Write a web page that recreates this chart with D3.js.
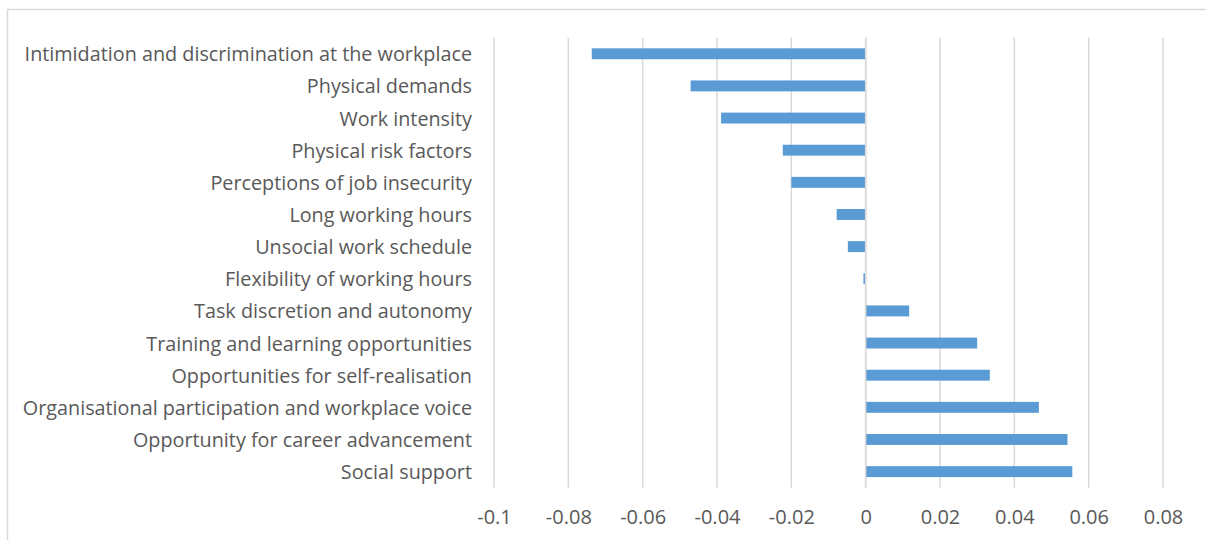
<!DOCTYPE html>
<html>
<head>
<meta charset="utf-8">
<script src="https://cdn.jsdelivr.net/npm/d3@7"></script>
<style>
  html, body { margin: 0; padding: 0; background: #fff; }
  svg { display: block; }
  text { font-family: "Open Sans", sans-serif; fill: #595959; }
</style>
</head>
<body>
<svg id="chart" width="1206" height="540"></svg>
<script>
// Job-quality factors and their estimated effect
const categories = [
  "Intimidation and discrimination at the workplace",
  "Physical demands",
  "Work intensity",
  "Physical risk factors",
  "Perceptions of job insecurity",
  "Long working hours",
  "Unsocial work schedule",
  "Flexibility of working hours",
  "Task discretion and autonomy",
  "Training and learning opportunities",
  "Opportunities for self-realisation",
  "Organisational participation and workplace voice",
  "Opportunity for career advancement",
  "Social support"
];
const values = [
  -0.0737, -0.0471, -0.0389, -0.0223, -0.0200, -0.0078, -0.0048,
  -0.0006, 0.0117, 0.0300, 0.0334, 0.0466, 0.0543, 0.0556
];
const tickValues = [-0.1, -0.08, -0.06, -0.04, -0.02, 0, 0.02, 0.04, 0.06, 0.08];

const svg = d3.select("#chart");
const W = 1206, H = 540;
const plot = { left: 494, right: 1163, top: 37.7, bottom: 487.7 };

// Outer chart frame (top and left edges fall inside the view)
svg.append("rect")
  .attr("x", 7.5).attr("y", 9.5)
  .attr("width", W + 20).attr("height", H + 20)
  .attr("fill", "none").attr("stroke", "#d9d9d9").attr("stroke-width", 1.5);

const x = d3.scaleLinear().domain([-0.1, 0.08]).range([plot.left, plot.right]);
const y = d3.scaleBand().domain(categories).range([plot.top, plot.bottom]).paddingInner(0.66).paddingOuter(0.33);

// Vertical gridlines
svg.append("g")
  .selectAll("line")
  .data(tickValues)
  .join("line")
  .attr("x1", d => x(d)).attr("x2", d => x(d))
  .attr("y1", plot.top).attr("y2", plot.bottom)
  .attr("stroke", "#d9d9d9").attr("stroke-width", 1.5);

// Bars
svg.append("g")
  .selectAll("rect")
  .data(values)
  .join("rect")
  .attr("x", d => Math.min(x(0), x(d)))
  .attr("width", d => Math.abs(x(d) - x(0)))
  .attr("y", (d, i) => y(categories[i]))
  .attr("height", y.bandwidth())
  .attr("fill", "#5b9bd5");

// Zero axis line
svg.append("line")
  .attr("x1", x(0)).attr("x2", x(0))
  .attr("y1", plot.top).attr("y2", plot.bottom)
  .attr("stroke", "#d9d9d9").attr("stroke-width", 1.5);

// Category labels
svg.append("g")
  .selectAll("text")
  .data(categories)
  .join("text")
  .attr("x", 472)
  .attr("y", d => y(d) + y.bandwidth() / 2)
  .attr("text-anchor", "end")
  .attr("dominant-baseline", "central")
  .style("font-size", "19.8px")
  .text(d => d);

// Value axis tick labels (plain hyphen for negatives)
const fmt = d => (d < 0 ? "-" : "") + d3.format("~g")(Math.abs(d));
const xAxis = d3.axisBottom(x).tickValues(tickValues).tickSize(0).tickFormat(fmt);
const gx = svg.append("g").attr("transform", `translate(0,${plot.bottom})`).call(xAxis);
gx.select(".domain").remove();
gx.selectAll("text")
  .attr("y", 29)
  .attr("dy", 0)
  .attr("dominant-baseline", "central")
  .style("font-size", "20px")
  .style("font-family", "\"Open Sans\", sans-serif")
  .attr("fill", "#595959");
</script>
</body>
</html>
